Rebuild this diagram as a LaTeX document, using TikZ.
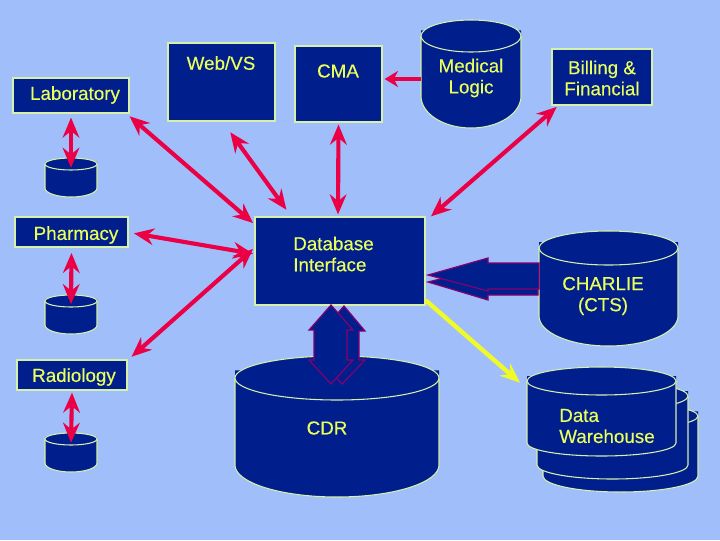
\documentclass[tikz,border=0pt]{standalone}
\usepackage{fontspec}
\setmainfont{Liberation Sans}[BoldFont={Liberation Sans},BoldFeatures={FakeBold=0.3}]
\usetikzlibrary{arrows.meta}
\definecolor{bgblue}{RGB}{160,190,250}
\definecolor{navy}{RGB}{0,30,140}
\definecolor{edge}{RGB}{215,240,170}
\definecolor{txt}{RGB}{235,255,90}
\definecolor{arrowred}{RGB}{235,0,70}
\definecolor{blockline}{RGB}{135,0,110}
\definecolor{wire}{RGB}{240,250,40}
\tikzset{
  boxnode/.style={draw=edge,fill=navy,line width=0.9pt,inner sep=0pt},
  lbl/.style={text=txt,font=\fontsize{14.1pt}{15.8pt}\selectfont\bfseries,inner sep=0pt,align=center},
  lblleft/.style={lbl,align=left},
  cylfill/.style={fill=navy},
  cylline/.style={draw=edge,line width=0.8pt},
  redarrow/.style={draw=arrowred,line width=3.1pt,{Stealth[length=15pt,width=12.5pt,inset=5pt]}-{Stealth[length=15pt,width=12.5pt,inset=5pt]}},
  redone/.style={draw=arrowred,line width=3.5pt,-{Stealth[length=10pt,width=12pt,inset=3pt]}},
  yellowarrow/.style={draw=wire,line width=3.3pt,-{Stealth[length=15pt,width=12pt,inset=5pt]}},
  blockarrow/.style={fill=navy,draw=blockline,line width=0.9pt,line join=miter},
  anchorbox/.style={inner sep=0pt,draw=none,fill=none}
}
% name, x1, y1, x2, y2
\newcommand{\flowbox}[5]{%
  \pgfmathsetmacro{\bw}{(#4-#2)*0.75}\pgfmathsetmacro{\bh}{(#5-#3)*0.75}%
  \node[boxnode,minimum width=\bw pt,minimum height=\bh pt] (#1) at ({(#2+#4)/2},{(#3+#5)/2}) {};}
% name, cx, rx, top centre y, top ry, side end y, bottom ry
\newcommand{\drum}[7]{%
  \fill[cylfill] ({#2-#3},{#4-#5*0.35}) -- ({#2+#3},{#4-#5*0.35}) -- ({#2+#3},#6)
     arc[start angle=0,end angle=180,x radius=#3,y radius=#7] -- cycle;
  \draw[cylline] ({#2-#3},#4) -- ({#2-#3},#6) arc[start angle=180,end angle=0,x radius=#3,y radius=#7] -- ({#2+#3},#4);
  \draw[cylline,fill=navy] (#2,#4) ellipse[x radius=#3,y radius=#5];
  \pgfmathsetmacro{\dw}{2*#3*0.75}\pgfmathsetmacro{\dh}{(#6+#7-#4+#5)*0.75}%
  \node[anchorbox,minimum width=\dw pt,minimum height=\dh pt] (#1) at (#2,{(#4-#5+#6+#7)/2}) {};}
\begin{document}
\begin{tikzpicture}[x=0.75pt,y=-0.75pt]
\useasboundingbox (0,0) rectangle (720,540);
\fill[bgblue] (0,0) rectangle (720,540);

% stacked warehouse drums
\drum{dwc}{620.5}{77.5}{416}{13}{476}{16}
\drum{dwb}{612.5}{75.5}{396}{14}{465}{14}
\drum{dwa}{601.5}{74.5}{381}{14}{443}{13}

% drums
\drum{medlogic}{471}{50}{36}{16}{96}{32}
\drum{charlie}{608.5}{69.5}{248}{17}{316}{30}
\drum{cdr}{337}{102}{378}{22}{465}{32}
\drum{labdb}{71}{26}{164}{6}{188}{9}
\drum{phdb}{71}{26}{301}{6}{325}{9}
\drum{raddb}{71}{26}{439}{6}{463}{9}

% boxes
\flowbox{webvs}{168}{43}{275}{121}
\flowbox{cma}{295}{46}{382}{122}
\flowbox{billing}{552}{49}{652}{105}
\flowbox{lab}{13}{78}{129}{113}
\flowbox{pharm}{15}{217}{128}{247}
\flowbox{rad}{17}{360}{127}{390}
\flowbox{db}{255}{217}{425}{305}

% block arrows: CHARLIE to interface
\draw[blockarrow] (428,282) -- (488,267) -- (488,270) -- (538,270) -- (538,295) -- (488,295) -- (488,300) -- cycle;
\draw[blockarrow] (428,275) -- (488,258) -- (488,263) -- (539,263) -- (539,289) -- (488,289) -- (488,291) -- cycle;
% block arrows: CDR and interface
\draw[blockarrow] (344,306) -- (365,331) -- (359,331) -- (359,360) -- (365,360) -- (342,384) -- (320,360) -- (325,360) -- (325,331) -- (322,331) -- cycle;
\draw[blockarrow] (331,305) -- (309,330) -- (314,330) -- (314,360) -- (309,360) -- (331,384) -- (353,360) -- (347,360) -- (347,330) -- (353,330) -- cycle;

% labels
\node[lbl] (twebvs) at (221,63) {Web/VS};
\node[lbl] (tcma) at (338,71) {CMA};
\node[lbl] (tmed) at (471,78) {Medical\\Logic};
\node[lbl] (tbill) at (602,78) {Billing \&\\Financial};
\node[lbl] (tlab) at (75,95) {Laboratory};
\node[lbl] (tpharm) at (76,235) {Pharmacy};
\node[lbl] (trad) at (74,377) {Radiology};
\node[lblleft,anchor=west] (tdb) at (293,254) {Database\\Interface};
\node[lbl] (tcharlie) at (603,296) {CHARLIE\\(CTS)};
\node[lbl] (tcdr) at (327,428) {CDR};
\node[lblleft,anchor=west] (tdw) at (559,426) {Data\\Warehouse};

% connectors
\draw[redarrow] ([yshift=-3pt]lab.south) -- ([yshift=-7.5pt]labdb.north);
\draw[redarrow] ([yshift=-4pt]pharm.south) -- ([yshift=-7pt]phdb.north);
\draw[redarrow] ([yshift=-1.5pt]rad.south) -- ([yshift=-7.5pt]raddb.north);
\draw[redarrow] ([yshift=-2pt]lab.south east) -- ([xshift=-1pt,yshift=-5pt]db.north west);
\draw[redarrow] ([xshift=4pt,yshift=-1pt]pharm.east) -- ([xshift=-1pt,yshift=-28pt]db.north west);
\draw[redarrow] ([xshift=3pt,yshift=2pt]rad.north east) -- ([xshift=-1pt,yshift=9pt]db.west);
\draw[redarrow] ([xshift=-34pt,yshift=-8pt]webvs.south east) -- ([xshift=24pt,yshift=5pt]db.north west);
\draw[redarrow] ([yshift=-1.5pt]cma.south) -- ([xshift=-1.5pt,yshift=1.5pt]db.north);
\draw[redone] ([yshift=-3.75pt]medlogic.west) -- ([yshift=3.75pt,xshift=1.5pt]cma.east);
\draw[redarrow] ([xshift=4pt,yshift=-1pt]billing.south west) -- ([xshift=4pt,yshift=0pt]db.north east);
\draw[yellowarrow] ([yshift=4pt]db.south east) -- ([xshift=-5pt,yshift=-12pt]dwa.north west);
\end{tikzpicture}
\end{document}
